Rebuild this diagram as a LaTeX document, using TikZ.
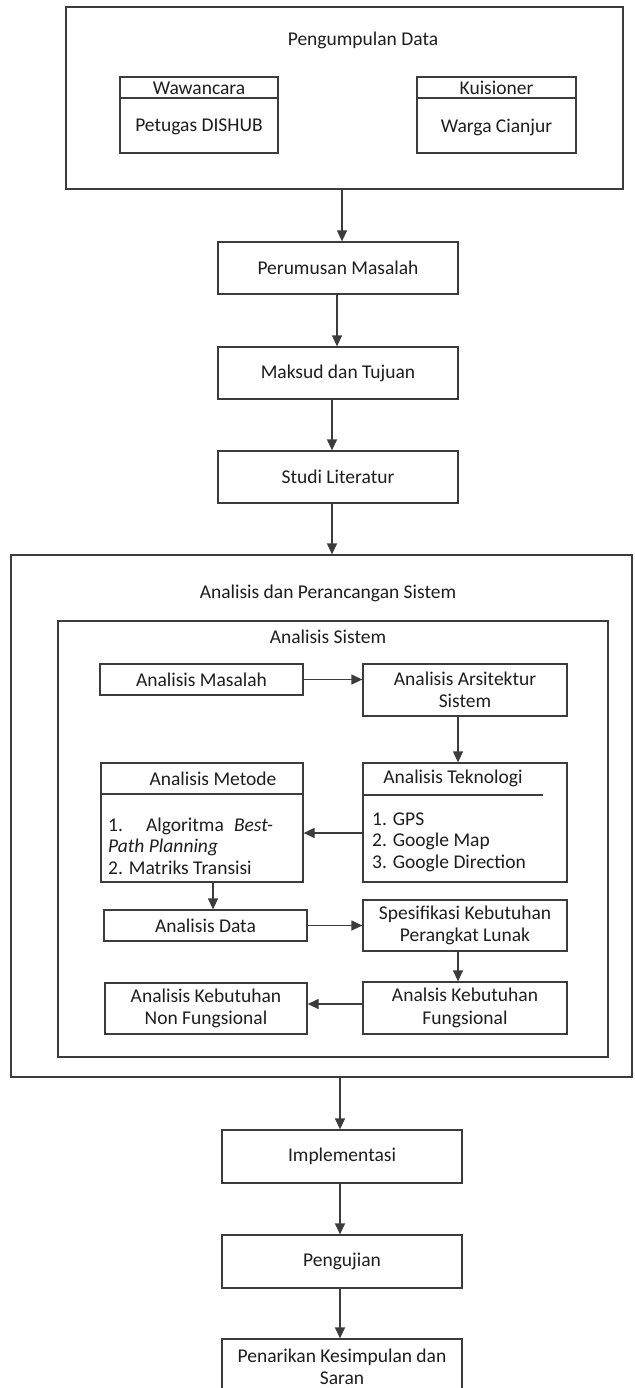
\documentclass[tikz,border=0pt]{standalone}
\usepackage{fontspec}
\setmainfont{Carlito}
\usetikzlibrary{arrows.meta}
\definecolor{ln}{HTML}{3C3C3C}
\definecolor{tx}{HTML}{1E1E1E}
\tikzset{
  box/.style={draw=ln, line width=1.3pt, inner sep=0pt, text=tx, align=center},
  lbl/.style={inner sep=0pt, text=tx, align=center},
  arr/.style={draw=ln, line width=1.3pt, -{Triangle[length=11pt,width=10pt]}},
  sep/.style={draw=ln, line width=1.3pt},
  every node/.append style={font=\fontsize{19.5}{22.5}\selectfont},
}
\begin{document}
\begin{tikzpicture}[x=1pt,y=-1pt]
\useasboundingbox (0,0) rectangle (634,1388);
\clip (0,0) rectangle (634,1388);
\fill[white] (0,0) rectangle (634,1388);

% Pengumpulan Data
\node[box, minimum width=557pt, minimum height=182pt] (top) at (344.5,98) {};
\node[lbl] (topt) at (363,40) {Pengumpulan Data};
\node[box, minimum width=158pt, minimum height=76pt] (waw) at (199,115) {};
\draw[sep] (waw.west |- 0,98) -- (waw.east |- 0,98);
\node[lbl] (wawh) at (199,88) {Wawancara};
\node[lbl] (wawb) at (199,127) {Petugas DISHUB};
\node[box, minimum width=159pt, minimum height=76pt] (kui) at (496.5,115) {};
\draw[sep] (kui.west |- 0,98) -- (kui.east |- 0,98);
\node[lbl] (kuih) at (496.5,88) {Kuisioner};
\node[lbl] (kuib) at (496.5,127) {Warga Cianjur};

\node[box, minimum width=240pt, minimum height=52pt] (rum) at (338,268) {Perumusan Masalah};
\node[box, minimum width=240pt, minimum height=52pt] (mak) at (338,373) {Maksud dan Tujuan};
\node[box, minimum width=240pt, minimum height=52pt] (stu) at (338,477) {Studi Literatur};

\draw[arr] (top.south -| 342,0) -- (rum.north -| 342,0);
\draw[arr] (rum.south -| 337,0) -- (mak.north -| 337,0);
\draw[arr] (mak.south -| 332,0) -- (stu.north -| 332,0);

% Analisis dan Perancangan Sistem
\node[box, minimum width=621pt, minimum height=522pt] (big) at (321.5,816) {};
\node[lbl] (bigt) at (328,593) {Analisis dan Perancangan Sistem};
\draw[arr] (stu.south -| 332,0) -- (big.north -| 332,0);
\node[box, minimum width=550pt, minimum height=436pt] (inn) at (333,839) {};
\node[lbl] (innt) at (328,637) {Analisis Sistem};

\node[box, minimum width=203pt, minimum height=31pt] (mas) at (201.5,679.5) {Analisis Masalah};
\node[box, minimum width=204pt, minimum height=52pt] (ars) at (465,690) {Analisis Arsitektur\\Sistem};
\draw[arr] (mas.east) -- (mas.east -| ars.west);

\node[box, minimum width=204pt, minimum height=119pt] (tek) at (465,822.5) {};
\node[lbl] (tekh) at (453,778) {Analisis Teknologi};
\draw[sep] (tek.west |- 0,795) -- (543,795);
\node[lbl, anchor=west] (tek1) at (372,819) {1. GPS};
\node[lbl, anchor=west] (tek2) at (372,841) {2. Google Map};
\node[lbl, anchor=west] (tek3) at (372,863) {3. Google Direction};
\draw[arr] (ars.south -| 458,0) -- (tek.north -| 458,0);

\node[box, minimum width=202pt, minimum height=119pt] (met) at (202,822.5) {};
\node[lbl] (meth) at (213,779) {Analisis Metode};
\draw[sep] (met.west |- 0,794) -- (met.east |- 0,794);
\node[lbl, anchor=west] (met1) at (108,826) {\makebox[165pt][s]{1. Algoritma \textit{Best-}}};
\node[lbl, anchor=west] (met2) at (108,847) {\textit{Path Planning}};
\node[lbl, anchor=west] (met3) at (108,868) {2. Matriks Transisi};
\draw[arr] (tek.west |- 0,833) -- (met.east |- 0,833);

\node[box, minimum width=203pt, minimum height=31pt] (dat) at (205.5,925.5) {Analisis Data};
\draw[arr] (met.south -| 213,0) -- (dat.north -| 213,0);
\node[box, minimum width=204pt, minimum height=51pt] (spe) at (465,925.5) {Spesifikasi Kebutuhan\\Perangkat Lunak};
\draw[arr] (dat.east) -- (dat.east -| spe.west);

\node[box, minimum width=204pt, minimum height=52pt] (fun) at (465,1008) {Analsis Kebutuhan\\Fungsional};
\draw[arr] (spe.south -| 458,0) -- (fun.north -| 458,0);
\node[box, minimum width=202pt, minimum height=51pt] (non) at (206,1008.5) {Analisis Kebutuhan\\Non Fungsional};
\draw[arr] (fun.west |- 0,1004) -- (non.east |- 0,1004);

% Bottom chain
\node[box, minimum width=240pt, minimum height=53pt] (imp) at (342,1156.5) {Implementasi};
\node[box, minimum width=240pt, minimum height=53pt] (uji) at (342,1261.5) {Pengujian};
\node[box, minimum width=240pt, minimum height=56pt] (pen) at (342,1367) {Penarikan Kesimpulan dan\\Saran};
\draw[arr] (big.south -| 340,0) -- (imp.north -| 340,0);
\draw[arr] (imp.south -| 340,0) -- (uji.north -| 340,0);
\draw[arr] (uji.south -| 340,0) -- (pen.north -| 340,0);
\end{tikzpicture}
\end{document}
